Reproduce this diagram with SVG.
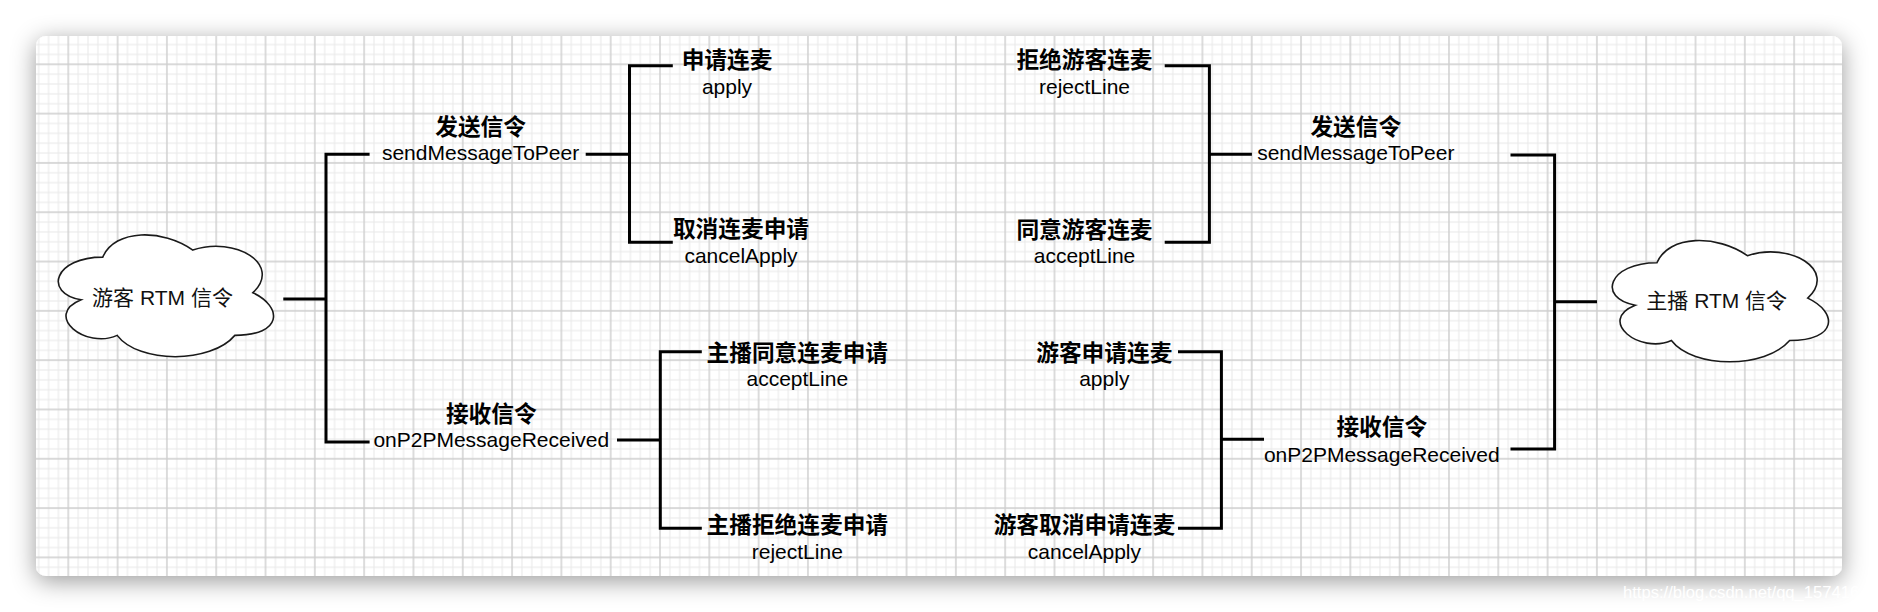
<svg xmlns="http://www.w3.org/2000/svg" width="1878" height="612" viewBox="0 0 1878 612">
  <defs>
    <filter id="shadow" x="-5%" y="-15%" width="110%" height="130%">
      <feGaussianBlur in="SourceAlpha" stdDeviation="12"/>
      <feOffset dy="5" result="b"/>
      <feFlood flood-color="#000" flood-opacity="0.4"/>
      <feComposite in2="b" operator="in"/>
      <feMerge><feMergeNode/><feMergeNode in="SourceGraphic"/></feMerge>
    </filter>
    <pattern id="grid" patternUnits="userSpaceOnUse" x="43.645" y="39.645" width="49.31" height="49.31">
      <g stroke="#e7e7e7" stroke-width="1">
        <line x1="4.931" y1="0" x2="4.931" y2="49.31"/>
        <line x1="14.793" y1="0" x2="14.793" y2="49.31"/>
        <line x1="34.517" y1="0" x2="34.517" y2="49.31"/>
        <line x1="44.379" y1="0" x2="44.379" y2="49.31"/>
        <line y1="4.931" x1="0" y2="4.931" x2="49.31"/>
        <line y1="14.793" x1="0" y2="14.793" x2="49.31"/>
        <line y1="34.517" x1="0" y2="34.517" x2="49.31"/>
        <line y1="44.379" x1="0" y2="44.379" x2="49.31"/>
      </g>
      <g stroke="#cdcdcd" stroke-width="1.4">
        <line x1="24.655" y1="0" x2="24.655" y2="49.31"/>
        <line y1="24.655" x1="0" y2="24.655" x2="49.31"/>
      </g>
    </pattern>
  </defs>
  <style>
    .cloud { fill: #ffffff; stroke: #1a1a1a; stroke-width: 1.6; }
    .conn { fill: none; stroke: #000; stroke-width: 3; stroke-linejoin: miter; stroke-linecap: butt; }
    .zh { font-family: "Liberation Sans", "Noto Sans CJK SC", sans-serif; font-size: 22.7px; font-weight: bold; fill: #000; text-anchor: middle; }
    .en { font-family: "Liberation Sans", "Noto Sans CJK SC", sans-serif; font-size: 21px; fill: #000; text-anchor: middle; }
    .ctext { font-family: "Liberation Sans", "Noto Sans CJK SC", sans-serif; font-size: 21px; fill: #111; text-anchor: middle; }
    .wm { font-family: "Liberation Sans", sans-serif; font-size: 16.6px; fill: #ffffff; }
  </style>

  <rect width="1878" height="612" fill="#ffffff"/>
  <rect x="36" y="36" width="1806" height="540" rx="10" ry="10" fill="#ffffff" filter="url(#shadow)"/>
  <rect x="36" y="36" width="1806" height="540" rx="10" ry="10" fill="url(#grid)"/>

  <g id="connectors">
    <path class="conn" d="M283.3,299 H326 M369.6,154.3 H326 V442 H369.6"/>
    <path class="conn" d="M585.7,154.3 H629.5 M672.8,65.7 H629.5 V242.3 H672.8"/>
    <path class="conn" d="M617,440 H660.3 M701.8,351.7 H660.3 V528.3 H701.8"/>
    <path class="conn" d="M1164.7,65.7 H1209.4 V242.3 H1164.7 M1209.4,154.3 H1251.9"/>
    <path class="conn" d="M1510.5,155 H1554.6 V449 H1510.5 M1554.6,301.7 H1597"/>
    <path class="conn" d="M1178,351.7 H1221.4 V528.3 H1178 M1221.4,439.3 H1264"/>
  </g>

  <g id="guest-rtm">
    <path class="cloud" d="M102.75,257.15 C54.71,257.15 42.7,292.7 81.13,299.81 C42.7,315.45 85.94,349.58 117.16,335.36 C138.78,363.8 210.84,363.8 234.86,335.36 C282.9,335.36 282.9,306.92 252.88,292.7 C282.9,264.26 234.86,235.82 192.83,250.04 C162.8,228.71 114.76,228.71 102.75,257.15 Z"/>
    <text class="ctext" x="162.5" y="304.5">游客 RTM 信令</text>
  </g>
  <g id="host-rtm">
    <path class="cloud" d="M1656.93,262.75 C1608.67,262.75 1596.6,298.1 1635.21,305.17 C1596.6,320.72 1640.03,354.66 1671.4,340.52 C1693.12,368.8 1765.51,368.8 1789.64,340.52 C1837.9,340.52 1837.9,312.24 1807.74,298.1 C1837.9,269.82 1789.64,241.54 1747.41,255.68 C1717.25,234.47 1668.99,234.47 1656.93,262.75 Z"/>
    <text class="ctext" x="1716.7" y="307.8">主播 RTM 信令</text>
  </g>

  <g id="guest-send">
    <text class="zh" x="480.6" y="135">发送信令</text>
    <text class="en" x="480.6" y="160.2">sendMessageToPeer</text>
  </g>
  <g id="guest-apply">
    <text class="zh" x="727" y="68.3">申请连麦</text>
    <text class="en" x="727" y="93.5">apply</text>
  </g>
  <g id="guest-cancel">
    <text class="zh" x="741" y="237.3">取消连麦申请</text>
    <text class="en" x="741" y="262.5">cancelApply</text>
  </g>
  <g id="guest-receive">
    <text class="zh" x="491.3" y="421.6">接收信令</text>
    <text class="en" x="491.3" y="446.8">onP2PMessageReceived</text>
  </g>
  <g id="host-accepted">
    <text class="zh" x="797.3" y="361">主播同意连麦申请</text>
    <text class="en" x="797.3" y="386.2">acceptLine</text>
  </g>
  <g id="host-rejected">
    <text class="zh" x="797.3" y="533.3">主播拒绝连麦申请</text>
    <text class="en" x="797.3" y="558.5">rejectLine</text>
  </g>
  <g id="host-reject">
    <text class="zh" x="1084.5" y="68.3">拒绝游客连麦</text>
    <text class="en" x="1084.5" y="93.5">rejectLine</text>
  </g>
  <g id="host-accept">
    <text class="zh" x="1084.5" y="237.6">同意游客连麦</text>
    <text class="en" x="1084.5" y="262.8">acceptLine</text>
  </g>
  <g id="host-send">
    <text class="zh" x="1355.8" y="135">发送信令</text>
    <text class="en" x="1355.8" y="160.2">sendMessageToPeer</text>
  </g>
  <g id="guest-applied">
    <text class="zh" x="1104.3" y="361">游客申请连麦</text>
    <text class="en" x="1104.3" y="386.2">apply</text>
  </g>
  <g id="guest-cancelled">
    <text class="zh" x="1084.4" y="533.3">游客取消申请连麦</text>
    <text class="en" x="1084.4" y="558.5">cancelApply</text>
  </g>
  <g id="host-receive">
    <text class="zh" x="1381.8" y="435">接收信令</text>
    <text class="en" x="1381.8" y="461.5">onP2PMessageReceived</text>
  </g>

  <text class="wm" x="1623" y="598">https://blog.csdn.net/qq_1574160</text>
</svg>
